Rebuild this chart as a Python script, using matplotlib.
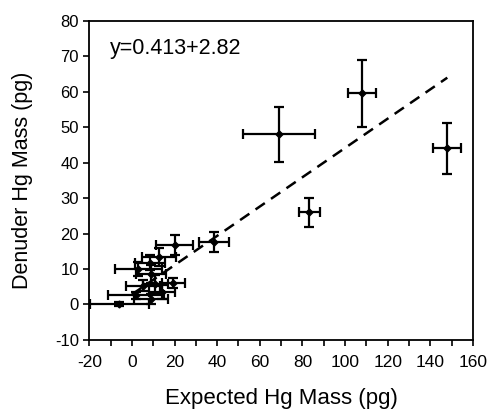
import matplotlib
matplotlib.use("Agg")
import matplotlib.pyplot as plt
import numpy as np

plt.rcParams["font.family"] = ["Liberation Sans", "DejaVu Sans"]
plt.rcParams["axes.unicode_minus"] = False

# Expected vs denuder Hg mass (pg), with error bars
expected = [-5.9, 2.0, 9.0, 14.0, 5.0, 11.0, 19.5, 9.0, 3.0, 8.5, 12.5, 20.0, 38.4,
            69.0, 107.8, 147.8, 83.3]
denuder = [0.1, 2.6, 1.5, 3.5, 5.3, 5.8, 6.0, 8.5, 10.0, 11.8, 13.3, 16.8, 17.5,
           48.0, 59.5, 44.0, 26.0]
expected_err = [14.0, 13.0, 8.0, 6.0, 8.0, 6.0, 5.5, 7.0, 11.0, 7.0, 8.0, 8.5, 7.0,
                17.0, 6.6, 6.5, 5.0]
denuder_err = [0.5, 1.0, 1.5, 2.0, 1.5, 2.5, 1.5, 2.5, 2.0, 2.0, 2.5, 2.8, 2.8,
               7.7, 9.5, 7.1, 4.1]

slope = 0.413
intercept = 2.82
fit_range = [0, 148]

fig = plt.figure(figsize=(4.88, 4.15), dpi=100)
ax = fig.add_axes([0.183, 0.181, 0.786, 0.769])

ax.errorbar(expected, denuder, xerr=expected_err, yerr=denuder_err,
            fmt="D", color="black", markersize=3.5, elinewidth=1.6,
            capsize=3.5, capthick=1.6, zorder=3)

xf = np.array(fit_range)
ax.plot(xf, slope * xf + intercept, color="black", linestyle=(0, (4.5, 3)),
        linewidth=1.8, zorder=2)

ax.text(-10.3, 72.3, "y=0.413+2.82", fontsize=15.5, va="center", ha="left")

ax.set_xlim(-20, 160)
ax.set_ylim(-10, 80)
ax.set_xticks(np.arange(-20, 161, 20))
ax.set_xticks(np.arange(-20, 161, 10), minor=True)
ax.set_yticks(np.arange(-10, 81, 10))
ax.tick_params(which="both", direction="out", length=4, width=1.2)
ax.tick_params(axis="x", labelsize=12.5, pad=7)
ax.tick_params(axis="y", labelsize=12)
for s in ax.spines.values():
    s.set_linewidth(1.3)

ax.set_xlabel("Expected Hg Mass (pg)", fontsize=16, labelpad=13)
ax.set_ylabel("Denuder Hg Mass (pg)", fontsize=15.5, labelpad=16)

fig.savefig("out.png", dpi=100)
